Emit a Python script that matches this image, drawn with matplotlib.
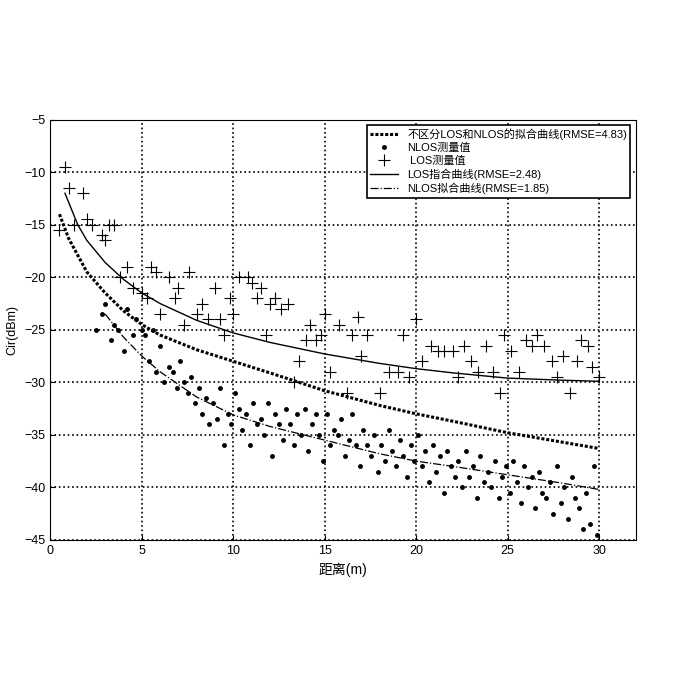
import matplotlib
matplotlib.use("Agg")
import matplotlib.pyplot as plt
import numpy as np

plt.rcParams['font.family'] = ['Liberation Sans', 'Noto Sans CJK SC', 'DejaVu Sans']

los_x = [0.5,0.8,1,1.3,1.8,2,2.3,2.8,3,3.2,3.5,3.8,4.2,4.5,5,5.3,5.5,5.8,6,6.5,6.8,7,7.3,7.6,8,8.3,8.6,9,9.3,9.5,9.8,10,10.3,10.8,11,11.3,11.5,11.8,12,12.3,12.6,13,13.3,13.6,14,14.2,14.5,14.8,15,15.3,15.8,16.2,16.5,16.8,17,17.3,18,18.5,19,19.3,19.6,20,20.3,20.8,21.2,21.5,22,22.3,22.6,23,23.4,23.8,24.2,24.6,24.8,25.2,25.6,26,26.3,26.6,27,27.4,27.7,28,28.4,28.8,29,29.4,29.6,30]
los_y = [-15.5,-9.5,-11.5,-15,-12,-14.5,-15,-16,-16.5,-15,-15,-20,-19,-21,-21.5,-22,-19,-19.5,-23.5,-20,-22,-21,-24.5,-19.5,-23.5,-22.5,-24,-21,-24,-25.5,-22,-23.5,-20,-20,-20.5,-22,-21,-25.5,-22.5,-22,-23,-22.5,-30,-28,-26,-24.5,-26,-25.5,-23.5,-29,-24.5,-31,-25.5,-23.8,-27.5,-25.5,-31,-29,-29,-25.5,-29.5,-24,-28,-26.5,-27,-27,-27,-29.5,-26.5,-28,-29,-26.5,-29,-31,-25.5,-27,-29,-26,-26.5,-25.5,-26.5,-28,-29.5,-27.5,-31,-28,-26,-26.5,-28.5,-29.5]

nlos_x = [2.5,2.8,3,3.3,3.5,3.7,4,4.2,4.5,4.7,5,5.2,5.4,5.6,5.8,6,6.2,6.5,6.7,6.9,7.1,7.3,7.5,7.7,7.9,8.1,8.3,8.5,8.7,8.9,9.1,9.3,9.5,9.7,9.9,10.1,10.3,10.5,10.7,10.9,11.1,11.3,11.5,11.7,11.9,12.1,12.3,12.5,12.7,12.9,13.1,13.3,13.5,13.7,13.9,14.1,14.3,14.5,14.7,14.9,15.1,15.3,15.5,15.7,15.9,16.1,16.3,16.5,16.7,16.9,17.1,17.3,17.5,17.7,17.9,18.1,18.3,18.5,18.7,18.9,19.1,19.3,19.5,19.7,19.9,20.1,20.3,20.5,20.7,20.9,21.1,21.3,21.5,21.7,21.9,22.1,22.3,22.5,22.7,22.9,23.1,23.3,23.5,23.7,23.9,24.1,24.3,24.5,24.7,24.9,25.1,25.3,25.5,25.7,25.9,26.1,26.3,26.5,26.7,26.9,27.1,27.3,27.5,27.7,27.9,28.1,28.3,28.5,28.7,28.9,29.1,29.3,29.5,29.7,29.9]
nlos_y = [-25,-23.5,-22.5,-26,-24.5,-25,-27,-23,-25.5,-24,-25,-25.5,-28,-25,-29,-26.5,-30,-28.5,-29,-30.5,-28,-30,-31,-29.5,-32,-30.5,-33,-31.5,-34,-32,-33.5,-30.5,-36,-33,-34,-31,-32.5,-34.5,-33,-36,-32,-34,-33.5,-35,-32,-37,-33,-34,-35.5,-32.5,-34,-36,-33,-35,-32.5,-36.5,-34,-33,-35,-37.5,-33,-36,-34.5,-35,-33.5,-37,-35.5,-33,-36,-38,-34.5,-36,-37,-35,-38.5,-36,-37.5,-34.5,-36.5,-38,-35.5,-37,-39,-36,-37.5,-35,-38,-36.5,-39.5,-36,-38.5,-37,-40.5,-36.5,-38,-39,-37.5,-40,-36.5,-39,-38,-41,-37,-39.5,-38.5,-40,-37.5,-41,-39,-38,-40.5,-37.5,-39.5,-41.5,-38,-40,-39,-42,-38.5,-40.5,-41,-39.5,-42.5,-38,-41.5,-40,-43,-39,-41,-42,-44,-40.5,-43.5,-38,-44.5]

all_fit_x = [0.5,1,2,3,4,5,6,8,10,12,15,18,20,22,25,28,30]
all_fit_y = [-14,-16.3,-19.5,-21.5,-23.2,-24.5,-25.5,-26.9,-28,-29.1,-30.8,-32.2,-33,-33.7,-34.8,-35.7,-36.3]
los_fit_x = [0.8,1.5,2,3,4,5,6,8,10,12,15,18,20,22,25,28,30]
los_fit_y = [-12,-15,-16.5,-18.6,-20.2,-21.5,-22.5,-24.1,-25.3,-26.2,-27.3,-28.2,-28.7,-29.1,-29.6,-29.8,-29.9]
nlos_fit_x = [3,4,5,6,8,10,12,15,18,20,22,25,28,30]
nlos_fit_y = [-23.5,-25.7,-27.5,-29,-31.4,-33.1,-34.2,-35.5,-36.8,-37.5,-38,-38.8,-39.6,-40.2]

fig = plt.figure(figsize=(6.8, 6.8), dpi=100)
ax = fig.add_axes([0.074, 0.206, 0.861, 0.618])
ax.plot(all_fit_x, all_fit_y, color='black', linestyle=(0, (1, 0.6)), lw=2.2,
        label='不区分LOS和NLOS的拟合曲线(RMSE=4.83)')
ax.plot(nlos_x, nlos_y, 'k.', ms=5, linestyle='none', label='NLOS测量值')
ax.plot(los_x, los_y, 'k+', ms=8, mew=0.8, linestyle='none', label=' LOS测量值')
ax.plot(los_fit_x, los_fit_y, color='black', lw=1.0, label='LOS指合曲线(RMSE=2.48)')
ax.plot(nlos_fit_x, nlos_fit_y, color='black', lw=0.9, linestyle='-.', label='NLOS拟合曲线(RMSE=1.85)')
ax.set_xlim(0, 32)
ax.set_ylim(-45, -5)
ax.set_xticks([0, 5, 10, 15, 20, 25, 30])
ax.set_yticks(range(-45, 0, 5))
ax.grid(True, color='black', linestyle=':', lw=1.2)
ax.tick_params(labelsize=9, direction='in')
ax.set_xlabel('距离(m)', fontsize=10)
ax.set_ylabel('Cir(dBm)', fontsize=9)
leg = ax.legend(loc='upper right', fontsize=8, fancybox=False, framealpha=1,
                edgecolor='black', borderpad=0.3, labelspacing=0.25, handlelength=2.5)
leg.get_frame().set_linewidth(1.2)
fig.savefig('out.png', dpi=100)
